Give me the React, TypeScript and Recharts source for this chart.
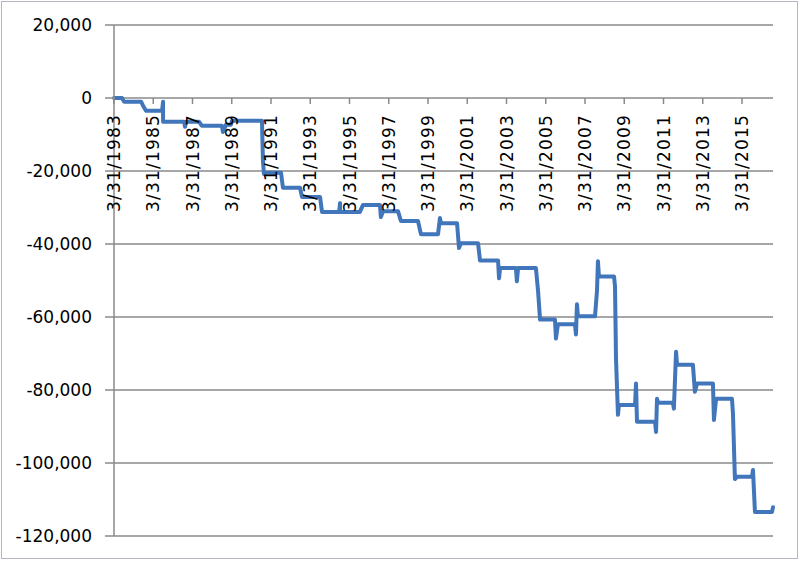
import { CartesianGrid, Line, LineChart, ReferenceDot, XAxis, YAxis } from "recharts";

// dates as fractional years (3/31 = .25)
const YEARS = [
  1983.25, 1983.66, 1983.76, 1984.63, 1984.73, 1984.88, 1985.7, 1985.75, 1985.75, 1986.82,
  1986.87, 1986.92, 1987.58, 1987.73, 1988.75, 1988.8, 1988.96, 1989.21, 1989.26, 1990.79,
  1990.84, 1990.89, 1990.94, 1991.76, 1991.86, 1992.73, 1992.83, 1993.75, 1993.85, 1994.72,
  1994.77, 1994.77, 1995.78, 1995.94, 1996.8, 1996.85, 1996.96, 1997.72, 1997.87, 1998.74,
  1998.89, 1999.76, 1999.86, 1999.91, 2000.73, 2000.83, 2000.93, 2001.8, 2001.9, 2002.82,
  2002.87, 2002.92, 2003.73, 2003.78, 2003.84, 2004.75, 2004.86, 2004.96, 2005.72, 2005.77,
  2005.87, 2006.74, 2006.79, 2006.84, 2006.89, 2007.76, 2007.86, 2007.91, 2007.96, 2008.73,
  2008.78, 2008.83, 2008.93, 2008.98, 2009.8, 2009.85, 2009.9, 2010.82, 2010.87, 2010.92,
  2010.97, 2011.73, 2011.78, 2011.89, 2011.94, 2012.75, 2012.85, 2012.96, 2013.77, 2013.82,
  2013.93, 2014.74, 2014.79, 2014.89, 2014.99, 2015.76, 2015.81, 2015.91, 2016.78, 2016.83,
];

const VALUES = [
  0, 0, -1000, -1000, -2100, -3500, -3500, -1000, -6500, -6500,
  -7900, -6500, -6500, -7600, -7600, -9300, -7300, -7300, -6200, -6200,
  -17200, -20800, -20500, -20500, -24600, -24600, -27100, -27100, -31200, -31200,
  -28800, -31200, -31200, -29300, -29300, -32600, -31000, -31000, -33700, -33700,
  -37300, -37300, -32900, -34300, -34300, -41100, -39800, -39800, -44500, -44500,
  -49400, -46600, -46600, -50200, -46600, -46600, -53000, -60700, -60700, -65900,
  -62000, -62000, -64800, -56500, -59800, -59800, -53000, -44700, -48900, -48900,
  -51600, -71400, -86800, -84100, -84100, -78200, -88700, -88700, -91500, -82400,
  -83500, -83500, -85100, -69500, -73100, -73100, -80500, -78200, -78200, -88200,
  -82400, -82400, -86500, -104400, -103800, -103800, -101900, -113400, -113400, -112100,
];

const X_TICKS = [
  1983.25, 1985.25, 1987.25, 1989.25, 1991.25, 1993.25, 1995.25, 1997.25, 1999.25,
  2001.25, 2003.25, 2005.25, 2007.25, 2009.25, 2011.25, 2013.25, 2015.25,
];
const X_LABELS = [
  "3/31/1983", "3/31/1985", "3/31/1987", "3/31/1989", "3/31/1991", "3/31/1993",
  "3/31/1995", "3/31/1997", "3/31/1999", "3/31/2001", "3/31/2003", "3/31/2005",
  "3/31/2007", "3/31/2009", "3/31/2011", "3/31/2013", "3/31/2015",
];
const Y_TICKS = [20000, 0, -20000, -40000, -60000, -80000, -100000, -120000];

const data = YEARS.map((year, i) => ({ year, value: VALUES[i] }));

const FONT = "'DejaVu Sans', sans-serif";
const GRID = "#8a8a8a";

function dateTick(label: string) {
  return (props: any) => {
    const { cx, cy } = props;
    if (cx == null || cy == null) return <g />;
    return (
      <g>
        <line x1={cx} y1={cy} x2={cx} y2={cy + 6} stroke={GRID} strokeWidth={1.5} />
        <text
          transform={`translate(${cx},${cy + 16}) rotate(-90)`}
          textAnchor="end"
          dy="0.36em"
          fontFamily={FONT}
          fontSize={17}
          letterSpacing={1.2}
          fill="#000"
        >
          {label}
        </text>
      </g>
    );
  };
}

export default function App() {
  return (
    <div style={{ position: "absolute", left: 0, top: 0, width: 800, height: 563, background: "#fff" }}>
      <div
        style={{
          position: "absolute",
          left: 1,
          top: 1,
          width: 795,
          height: 556,
          border: "1.5px solid #b3b7c3",
        }}
      />
      <LineChart
        width={800}
        height={563}
        data={data}
        margin={{ top: 25, right: 27, bottom: 27, left: 0 }}
      >
        <CartesianGrid vertical={false} stroke={GRID} strokeWidth={1.5} />
        <XAxis
          dataKey="year"
          type="number"
          domain={[1983.25, 2016.83]}
          ticks={X_TICKS}
          axisLine={false}
          tickLine={false}
          tick={false}
          height={0}
        />
        <YAxis
          type="number"
          domain={[-120000, 20000]}
          ticks={Y_TICKS}
          width={114}
          interval={0}
          tickSize={9}
          tickMargin={13}
          axisLine={{ stroke: GRID, strokeWidth: 1.5 }}
          tickLine={{ stroke: GRID, strokeWidth: 1.5 }}
          tick={{ fontFamily: FONT, fontSize: 17, fill: "#000" }}
          tickFormatter={(v: number) => v.toLocaleString("en-US")}
        />
        <Line
          type="linear"
          dataKey="value"
          stroke="#4176bb"
          strokeWidth={4}
          strokeLinejoin="round"
          strokeLinecap="round"
          dot={false}
          isAnimationActive={false}
        />
        {X_TICKS.map((t, i) => (
          <ReferenceDot key={t} x={t} y={0} r={0} shape={dateTick(X_LABELS[i])} />
        ))}
      </LineChart>
    </div>
  );
}
